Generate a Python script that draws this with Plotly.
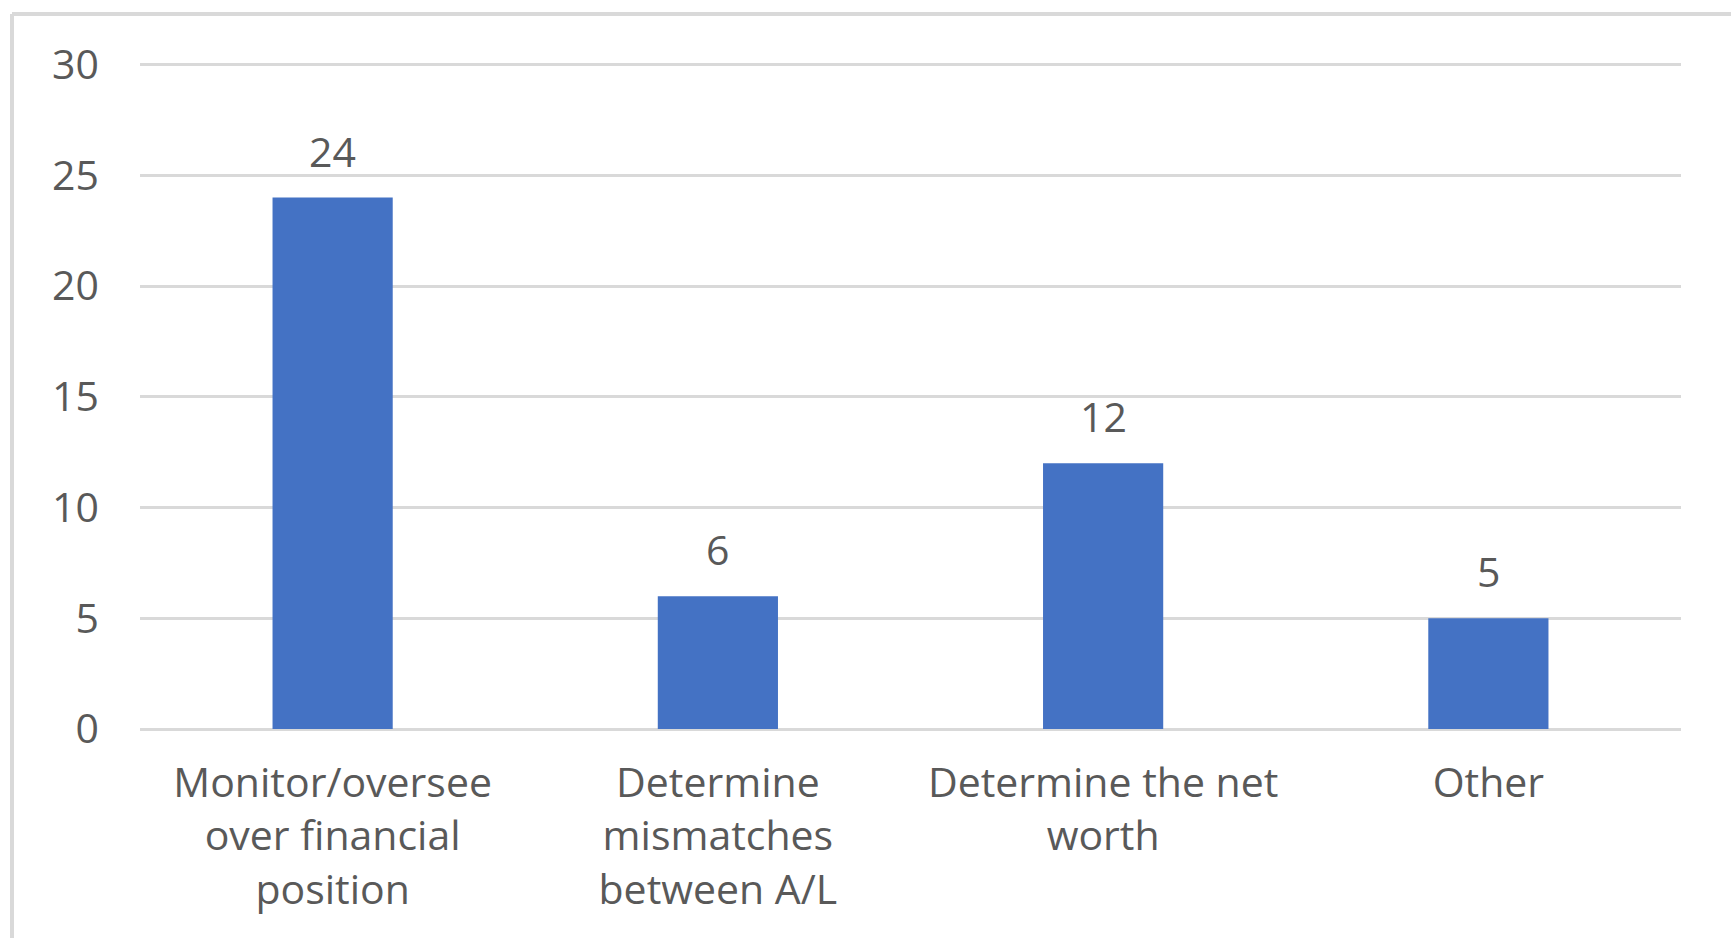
import plotly.graph_objects as go

categories = [
    "Monitor/oversee<br>over financial<br>position",
    "Determine<br>mismatches<br>between A/L",
    "Determine the net<br>worth",
    "Other",
]
counts = [24, 6, 12, 5]
y_ticks = [0, 5, 10, 15, 20, 25, 30]

BAR_COLOR = "#4472C4"
TEXT_COLOR = "#595959"
GRID_COLOR = "#D9D9D9"
FONT = "'Open Sans', Lato, sans-serif"
FONT_SIZE = 41

W, H = 1731, 938
L, R, T, B = 140, 50, 58, 209
Y_MAX = 30.3

fig = go.Figure(
    go.Bar(
        x=categories,
        y=counts,
        marker=dict(color=BAR_COLOR, line=dict(width=0)),
        width=0.312,
        hoverinfo="skip",
    )
)

# value labels above each bar
for cat, val in zip(categories, counts):
    fig.add_annotation(
        x=cat, y=val, text=str(val), showarrow=False,
        xref="x", yref="y", yanchor="bottom", yshift=17,
        font=dict(family=FONT, size=FONT_SIZE, color=TEXT_COLOR),
    )

# light frame around the chart area (left and top edges visible)
plot_w = W - L - R
plot_h = H - T - B
fx0 = (12 - L) / plot_w
fy1 = 1 + (T - 14) / plot_h
fig.add_shape(type="line", xref="paper", yref="paper",
              x0=fx0, x1=1 + (R + 10) / plot_w, y0=fy1, y1=fy1,
              line=dict(color=GRID_COLOR, width=4))
fig.add_shape(type="line", xref="paper", yref="paper",
              x0=fx0, x1=fx0, y0=fy1, y1=-(B + 10) / plot_h,
              line=dict(color=GRID_COLOR, width=4))

fig.update_layout(
    width=W, height=H,
    margin=dict(l=L, r=R, t=T, b=B),
    paper_bgcolor="white", plot_bgcolor="white",
    showlegend=False,
    font=dict(family=FONT, size=FONT_SIZE, color=TEXT_COLOR),
    xaxis=dict(
        showgrid=False, showline=False, zeroline=False,
        ticks="", tickfont=dict(family=FONT, size=FONT_SIZE, color=TEXT_COLOR),
        ticklabelstandoff=26,
    ),
    yaxis=dict(
        range=[0, Y_MAX], tickvals=y_ticks,
        showgrid=True, gridcolor=GRID_COLOR, gridwidth=3,
        zeroline=True, zerolinecolor=GRID_COLOR, zerolinewidth=3,
        showline=False, ticks="",
        tickfont=dict(family=FONT, size=FONT_SIZE, color=TEXT_COLOR),
        ticklabelstandoff=40,
    ),
)

fig.write_html("out.html")
